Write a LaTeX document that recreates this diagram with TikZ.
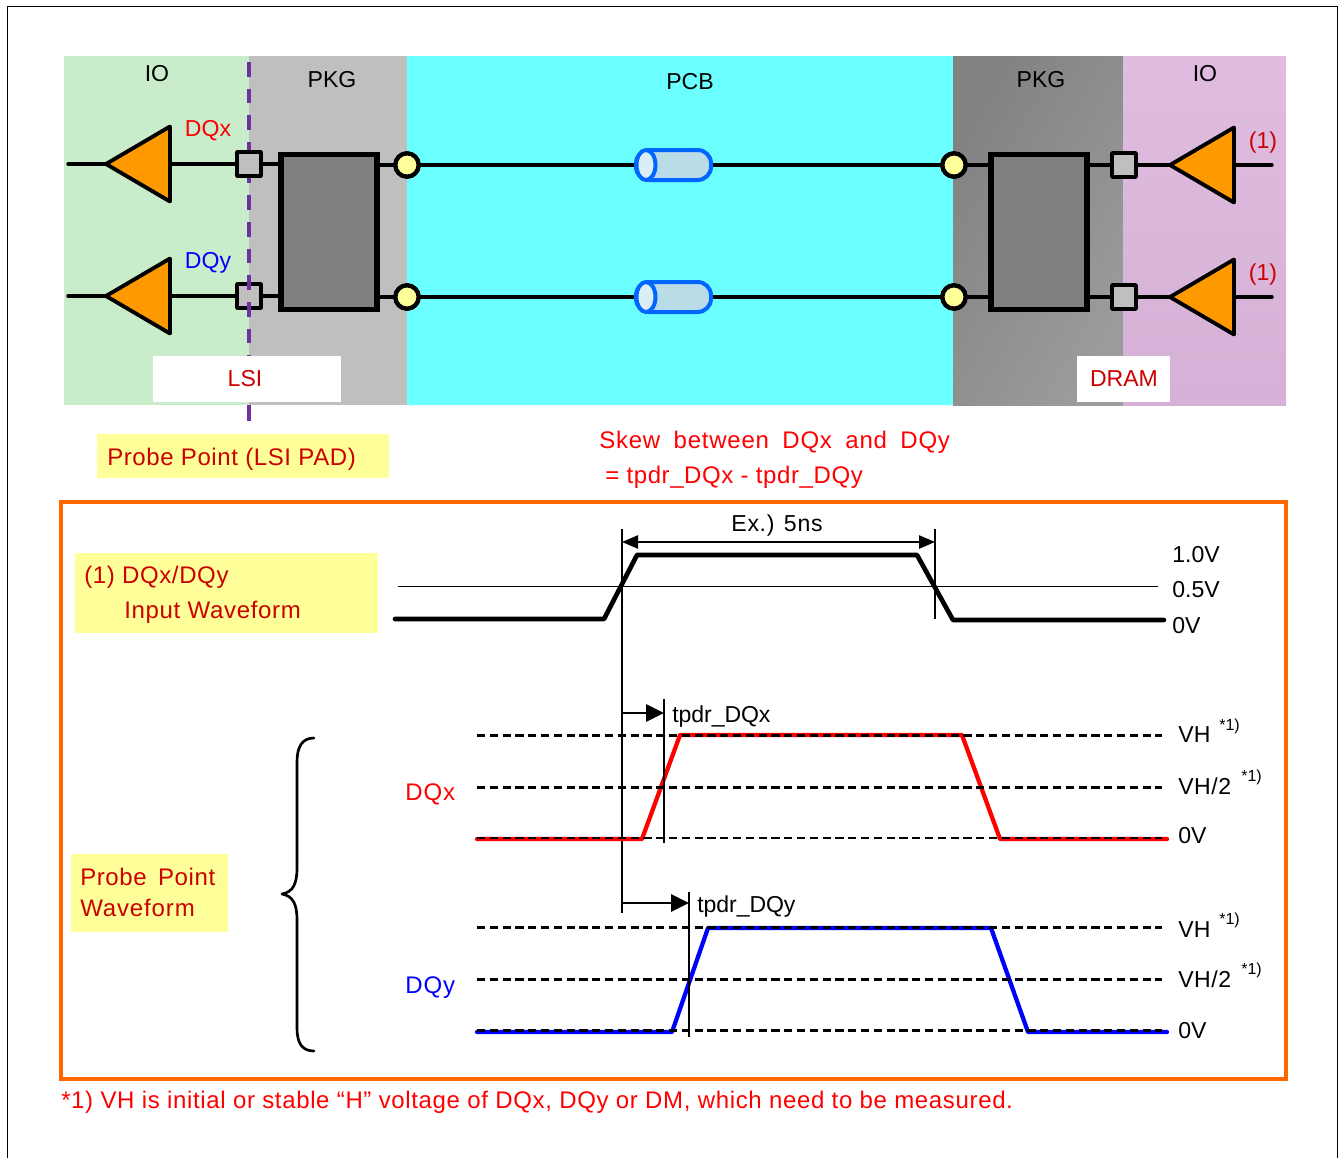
\documentclass[tikz,border=0pt]{standalone}
\usepackage{fontspec}
\setmainfont{Liberation Sans}
\usetikzlibrary{arrows.meta,calc}
\definecolor{iogreen}{HTML}{C9EDCB}
\definecolor{pkggray}{HTML}{BFBFBF}
\definecolor{pcbcyan}{HTML}{6CFFFF}
\definecolor{amber}{HTML}{FF9900}
\definecolor{padyellow}{HTML}{FFFF99}
\definecolor{notered}{HTML}{CC0000}
\definecolor{purp}{HTML}{7030A0}
\definecolor{frameorange}{HTML}{FF6600}
\definecolor{cylblue}{HTML}{0066FF}
\definecolor{cylbody}{HTML}{B9DCE8}
\definecolor{cylend}{HTML}{DCEEF5}
\definecolor{pinkA}{HTML}{E0BDE0}
\definecolor{pinkB}{HTML}{D6B0D6}
\tikzset{
  x=0.75pt,y=-0.75pt,
  txt/.style={font=\fontsize{17.3}{20}\selectfont,inner sep=0pt,anchor=center},
  wide/.style={font=\fontsize{17.3}{20}\selectfont\addfontfeatures{LetterSpace=#1},inner sep=0pt,anchor=west},
  rw/.style={font=\fontsize{18}{20}\selectfont\addfontfeatures{LetterSpace=#1},inner sep=0pt,anchor=west},
  wire/.style={line width=2.6pt,line cap=round},
  sq/.style={draw=black,fill=pkggray,line width=2.8pt,minimum size=18pt,inner sep=0pt,rounded corners=0.5pt},
  pkgbox/.style={draw=black,fill=black!50,line width=3.8pt,minimum width=72pt,minimum height=116pt,inner sep=0pt},
  ball/.style={circle,draw=black,fill=padyellow,line width=3.2pt,minimum size=17.5pt,inner sep=0pt},
  tri/.style={draw=black,fill=amber,line width=2.9pt,line join=round},
  thinl/.style={line width=1.1pt},
  wave/.style={line width=3.2pt,line join=round,line cap=round},
  dashl/.style={line width=1.8pt,dash pattern=on 6.2pt off 3.4pt},
  probe/.style={purp,line width=3pt,dash pattern=on 11pt off 9pt},
  arr/.style={-{Triangle[length=13.5pt,width=13pt]},line width=1.4pt},
  arrb/.style={{Triangle[length=12pt,width=10pt]}-{Triangle[length=12pt,width=10pt]},line width=1pt},
}
\newcommand{\cyl}[2]{%
  \draw[cylblue,fill=cylbody,line width=3pt,rounded corners=10pt] (#1,#2-15) rectangle (#1+75,#2+15);
  \draw[cylblue,fill=cylend,line width=3pt] (#1+10,#2) ellipse [x radius=9.5,y radius=15];
}
\begin{document}
\begin{tikzpicture}
\useasboundingbox (0,0) rectangle (1343,1158);
\fill[white] (0,0) rectangle (1343,1158);
% page frame
\draw[line width=1.2pt] (7.5,1158) -- (7.5,6.5) -- (1337.5,6.5) -- (1337.5,1158);
% bands
\fill[iogreen] (64,56) rectangle (249,405);
\fill[pkggray] (249,56) rectangle (407,405);
\fill[pcbcyan] (407,56) rectangle (953,405);
\shade[left color=black!49,right color=black!39,shading angle=60] (953,56) rectangle (1123,405);
\shade[top color=pinkA,bottom color=pinkB] (1123,56) rectangle (1286,405);
% components
\foreach \r/\y/\b in {x/165/164,y/297/296}{
  \coordinate (ll\r) at (68,\b);
  \coordinate (ltip\r) at (106,\b);
  \coordinate (lb\r) at (170,\b);
  \node[sq] (lsq\r) at (249,\b) {};
  \node[ball] (lb2\r) at (407,\y) {};
  \node[ball] (rb\r) at (954,\y) {};
  \node[sq] (rsq\r) at (1124,\y) {};
  \coordinate (rtip\r) at (1170,\y);
  \coordinate (rb3\r) at (1234,\y);
  \coordinate (rr\r) at (1272,\y);
}
\node[pkgbox] (lp) at (329,232) {};
\node[pkgbox] (rp) at (1039,232) {};
\foreach \r/\y in {x/165,y/297}{
  \draw[wire] (ll\r) -- (ltip\r);
  \draw[wire] (lb\r) -- (lsq\r);
  \draw[wire] (lsq\r) -- (lsq\r -| lp.west);
  \draw[wire] (lb2\r -| lp.east) -- (lb2\r);
  \draw[wire] (lb2\r) -- (rb\r);
  \draw[wire] (rb\r) -- (rb\r -| rp.west);
  \draw[wire] (rb\r -| rp.east) -- (rsq\r);
  \draw[wire] (rsq\r) -- (rtip\r);
  \draw[wire] (rb3\r) -- (rr\r);
  \draw[tri] (ltip\r) -- ++(64,-37.5) -- ++(0,75) -- cycle;
  \draw[tri] (rtip\r) -- ++(64,-37.5) -- ++(0,75) -- cycle;
}
\node[sq] at (lsqy) {};
\draw[probe] (249,62) -- (249,405);
\draw[purp,line width=3pt] (249,405) -- (249,421);
\node[sq] at (lsqx) {};
\node[ball] at (lb2x) {};\node[ball] at (lb2y) {};
\node[ball] at (rbx) {};\node[ball] at (rby) {};
\cyl{636}{165}
\cyl{636}{297}
% white label boxes
\node[fill=white,minimum width=141pt,minimum height=34.5pt,inner sep=0pt] (lsibox) at (247,379) {};
\node[fill=white,minimum width=69.5pt,minimum height=34.5pt,inner sep=0pt] (drambox) at (1123.5,379) {};
% top labels
\node[txt] (io1) at (157,74) {IO};
\node[txt] (pkg1) at (332,80) {PKG};
\node[txt] (pcb) at (690,82) {PCB};
\node[txt] (pkg2) at (1041,80) {PKG};
\node[txt] (io2) at (1205,74) {IO};
\node[txt,red] (dqxl) at (208,131) {DQx};
\node[txt,blue] (dqyl) at (208,263) {DQy};
\node[txt,notered] (o1) at (1263,143) {(1)};
\node[txt,notered] (o2) at (1263,275) {(1)};
\node[txt,notered] (lsi) at (245,379) {LSI};
\node[txt,notered] (dram) at (1124,379) {DRAM};
% probe note
\fill[padyellow] (97,434) rectangle (389,478);
\node[rw=2.5,notered] (pp) at (107,459) {Probe Point (LSI PAD)};
\node[rw=3.2,red] (sk1) at (599,442) {Skew\hspace{4.5pt} between\hspace{4.5pt} DQx\hspace{4.5pt} and\hspace{4.5pt} DQy};
\node[rw=2.5,red] (sk2) at (605,477) {= tpdr\_DQx - tpdr\_DQy};
% orange frame
\draw[frameorange,line width=3pt] (61,502) rectangle (1286,1079);
% input
\fill[padyellow] (75,553) rectangle (378,633);
\node[rw=2.6,notered] (in1) at (84,577) {(1) DQx/DQy};
\node[rw=2.8,notered] (in2) at (124,612) {Input Waveform};
\draw[thinl] (398,586.5) -- (1158,586.5);
\draw[line width=3.5pt,line join=round,line cap=round] (395,619) -- (604,619) -- (637,555) -- (917,555) -- (953,620) -- (1164,620);
\coordinate (ta) at (622,529);
\coordinate (tae) at (622,913);
\coordinate (tb) at (935,529);
\coordinate (tbe) at (935,619);
\draw[thinl] (ta) -- (tae);
\draw[thinl] (tb) -- (tbe);
\draw[arrb] (622,542) -- (935,542);
\node[wide=3,anchor=center] (ex) at (777,526) {Ex.) 5ns};
\node[txt,anchor=west] (v1) at (1172,555) {1.0V};
\node[txt,anchor=west] (v2) at (1172,590) {0.5V};
\node[txt,anchor=west] (v3) at (1172,626) {0V};
% DQx waveform
\draw[wave,red] (477,839) -- (642,839) -- (680,735) -- (962,735) -- (1000,839) -- (1167,839);
\draw[dashl] (477,735.5) -- (1162,735.5);
\draw[dashl] (477,787.5) -- (1162,787.5);
\draw[dashl] (477,838) -- (1162,838);
\draw[thinl] (664,699) -- (664,843);
\draw[arr] (622,713) -- (664,713);
\node[wide=-0.3] (tx) at (672,717) {tpdr\_DQx};
\node[rw=4,red] (dx) at (405,794) {DQx};
\node[wide=1] (vh1) at (1178,735) {VH};
\node[wide=2.5] (vh2) at (1178,786) {VH/2};
\node[txt,anchor=west] (v01) at (1178,836) {0V};
% DQy waveform
\draw[wave,blue] (477,1032) -- (672,1032) -- (708,928) -- (991,928) -- (1028,1032) -- (1167,1032);
\draw[dashl] (477,927.5) -- (1162,927.5);
\draw[dashl] (477,979.5) -- (1162,979.5);
\draw[dashl] (477,1030.5) -- (1162,1030.5);
\draw[thinl] (689,892) -- (689,1037);
\draw[arr] (622,903) -- (689,903);
\node[wide=-0.3] (ty) at (697,907) {tpdr\_DQy};
\node[rw=4,blue] (dy) at (405,988) {DQy};
\node[wide=1] (vh3) at (1178,930) {VH};
\node[wide=2.5] (vh4) at (1178,979) {VH/2};
\node[txt,anchor=west] (v02) at (1178,1031) {0V};
% superscripts
\foreach \n/\xx/\yy in {a/1219/726,b/1241/777,c/1219/920,d/1241/970}{
  \node[font=\fontsize{12}{14}\selectfont,inner sep=0pt,anchor=west] (s\n) at (\xx,\yy) {*1)};
}
% brace
\draw[line width=2pt,line cap=round,line join=round] (314,738) .. controls (302,738) and (297,747) .. (297,762) -- (297,868) .. controls (297,884) and (293,892) .. (282,894) .. controls (293,896) and (297,904) .. (297,920) -- (297,1028) .. controls (297,1043) and (302,1051) .. (314,1051);
\fill[padyellow] (71,854) rectangle (228,932);
\node[rw=2.6,notered] (p1) at (80,877) {Probe\hspace{3pt} Point};
\node[rw=3.6,notered] (p2) at (80,908) {Waveform};
\node[rw=2.7,red] (fn) at (61,1102) {*1) VH is initial or stable “H” voltage of DQx, DQy or DM, which need to be measured.};
\end{tikzpicture}
\end{document}
